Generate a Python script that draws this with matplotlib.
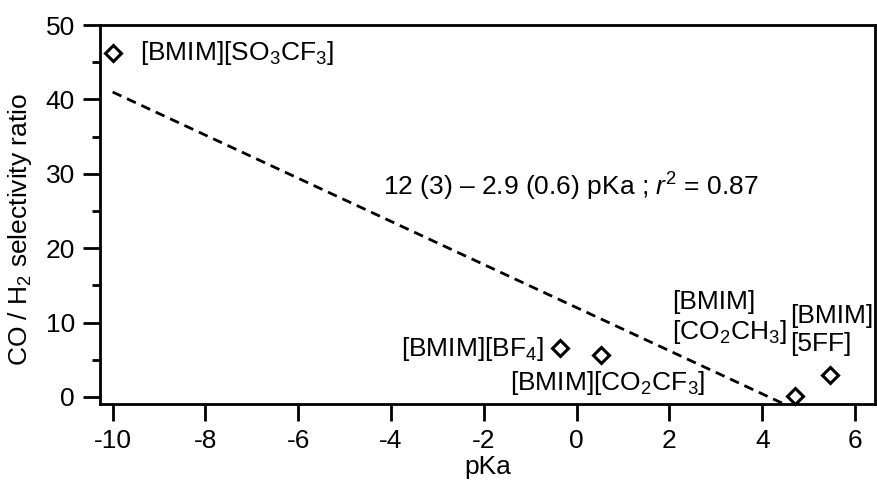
import matplotlib
matplotlib.use("Agg")
import matplotlib.pyplot as plt
import numpy as np
from matplotlib.ticker import MultipleLocator

plt.rcParams['font.family'] = ['Liberation Sans', 'DejaVu Sans']
plt.rcParams['mathtext.fontset'] = 'custom'
plt.rcParams['mathtext.rm'] = 'Liberation Sans'
plt.rcParams['mathtext.it'] = 'Liberation Sans:italic'
plt.rcParams['axes.unicode_minus'] = False

pka = [-10.0, -0.36, 0.52, 4.7, 5.45]
selectivity = [46.2, 6.6, 5.6, 0.1, 3.0]
labels = ["[BMIM][SO$_3$CF$_3$]", "[BMIM][BF$_4$]", "[BMIM][CO$_2$CF$_3$]",
          "[BMIM]\n[CO$_2$CH$_3$]", "[BMIM]\n[5FF]"]
fit_intercept = 12
fit_slope = -2.9
fit_text = "12 (3) \u2013 2.9 (0.6) pKa ; $\\it{r}^2$ = 0.87"
xticks = [-10, -8, -6, -4, -2, 0, 2, 4, 6]
yticks = [0, 10, 20, 30, 40, 50]

fig = plt.figure(figsize=(8.78, 4.92), dpi=100)
ax = fig.add_axes([0.114, 0.179, 0.8826, 0.770])

xf = np.array([-10, 4.6])
ax.plot(xf, fit_intercept + fit_slope * xf, ls=(0, (3.5, 2.2)), color='black', lw=2)
ax.plot(pka, selectivity, ls='none', marker='D', ms=8, mfc='white', mec='black', mew=2.2,
        zorder=5, clip_on=False)

fs = 19
ax.text(-9.4, 46.2, labels[0], fontsize=fs, va='center', ha='left')
ax.text(-0.7, 6.4, labels[1], fontsize=fs, va='center', ha='right')
ax.text(0.68, 1.9, labels[2], fontsize=fs, va='center', ha='center')
ax.text(2.05, 10.6, labels[3], fontsize=fs, va='center', ha='left', linespacing=1.2)
ax.text(4.6, 9.0, labels[4], fontsize=fs, va='center', ha='left', linespacing=1.2)
ax.text(-0.13, 28.2, fit_text, fontsize=fs, va='center', ha='center')

ax.set_xlim(-10.27, 6.43)
ax.set_ylim(-0.95, 50)
ax.set_xticks(xticks)
ax.set_yticks(yticks)
ax.yaxis.set_minor_locator(MultipleLocator(5))
ax.tick_params(which='major', direction='out', length=12, width=2, labelsize=fs, pad=6)
ax.tick_params(which='minor', direction='out', length=6, width=2)
for s in ax.spines.values():
    s.set_linewidth(2)
ax.set_xlabel("pKa", fontsize=fs)
ax.set_ylabel("CO / H$_2$ selectivity ratio", fontsize=fs)
ax.xaxis.set_label_coords(0.5, -0.135)
ax.yaxis.set_label_coords(-0.085, 0.46)

fig.savefig("out.png", dpi=100)
